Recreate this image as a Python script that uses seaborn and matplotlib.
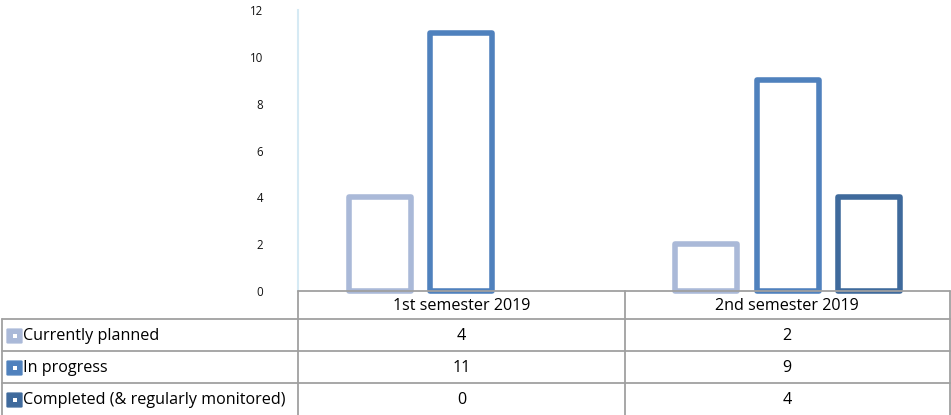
import matplotlib
matplotlib.use("Agg")
import matplotlib.pyplot as plt
import seaborn as sns
import pandas as pd
from matplotlib.patches import FancyBboxPatch, Rectangle
from matplotlib.lines import Line2D

# Data
semesters = ["1st semester 2019", "2nd semester 2019"]
statuses = ["Currently planned", "In progress", "Completed (& regularly monitored)"]
planned = [4, 2]
in_progress = [11, 9]
completed = [0, 4]
colors = ["#AAB9D8", "#4F81BD", "#3F6A9C"]
yticks = [0, 2, 4, 6, 8, 10, 12]

values = [planned, in_progress, completed]
rows = []
for status, vals in zip(statuses, values):
    for sem, v in zip(semesters, vals):
        rows.append({"semester": sem, "status": status, "count": v})
df = pd.DataFrame(rows)

sns.set_theme(style="white")
plt.rcParams["font.family"] = ["Open Sans", "DejaVu Sans"]

W, H = 951, 415
fig = plt.figure(figsize=(W / 100, H / 100), dpi=100)

x0, x1 = 298, 951
y_top, y_zero = 10, 291
ax = fig.add_axes([x0 / W, 1 - y_zero / H, (x1 - x0) / W, (y_zero - y_top) / H])

palette = dict(zip(statuses, colors))
sns.barplot(data=df, x="semester", y="count", hue="status", hue_order=statuses,
            order=semesters, palette=palette, fill=False, linewidth=4,
            width=0.75, gap=0.24, legend=False, ax=ax)
for p in ax.patches:
    p.set_joinstyle("round")
    p.set_clip_on(False)
    if p.get_height() == 0:
        p.set_visible(False)

ax.set_xlim(-0.5, 1.5)
ax.set_ylim(0, 12)
ax.set_yticks(yticks)
ax.set_yticklabels([str(t) for t in yticks], fontsize=8.3, color="#111111")
ax.tick_params(axis="y", length=0, pad=25)
ax.set_xticks([])
ax.set_xlabel("")
ax.set_ylabel("")
for s in ["top", "right", "bottom"]:
    ax.spines[s].set_visible(False)
ax.spines["left"].set_color("#D6EAF4")
ax.spines["left"].set_linewidth(1.5)

# Data table below the plot area
grid = "#A0A0A0"


def fx(px):
    return px / W


def fy(py):
    return 1 - py / H


def hline(y, xa, xb):
    fig.add_artist(Line2D([fx(xa), fx(xb)], [fy(y), fy(y)], color=grid, lw=1.3))


def vline(x, ya, yb):
    fig.add_artist(Line2D([fx(x), fx(x)], [fy(ya), fy(yb)], color=grid, lw=1.3))


row_y = [291, 319, 351, 383, 415]
col_x = [2, 298, 625, 949.5]

hline(row_y[0], col_x[1], col_x[3])
for y in row_y[1:-1]:
    hline(y, col_x[0], col_x[3])
vline(col_x[0], row_y[1], row_y[4])
for x in col_x[1:]:
    vline(x, row_y[0], row_y[4])

tfs = 11.6
for j, sem in enumerate(semesters):
    cx = (col_x[j + 1] + col_x[j + 2]) / 2
    fig.text(fx(cx), fy((row_y[0] + row_y[1]) / 2 + 1), sem, ha="center", va="center",
             fontsize=tfs, color="#000000")

for i, (status, vals, c) in enumerate(zip(statuses, values, colors)):
    cy = (row_y[i + 1] + 32 / 2) + 1
    # legend key
    fig.add_artist(FancyBboxPatch((fx(8), fy(cy + 6.5)), 13 / W, 13 / H,
                                  boxstyle="round,pad=0.001", facecolor=c,
                                  edgecolor=c, lw=1))
    fig.add_artist(Rectangle((fx(12.5), fy(cy + 2)), 4 / W, 4 / H, facecolor="white",
                             edgecolor="none"))
    fig.text(fx(23), fy(cy), status, ha="left", va="center", fontsize=tfs, color="#000000")
    for j, v in enumerate(vals):
        cx = (col_x[j + 1] + col_x[j + 2]) / 2
        fig.text(fx(cx), fy(cy), str(v), ha="center", va="center", fontsize=tfs,
                 color="#000000")

fig.savefig("out.png", dpi=100)
